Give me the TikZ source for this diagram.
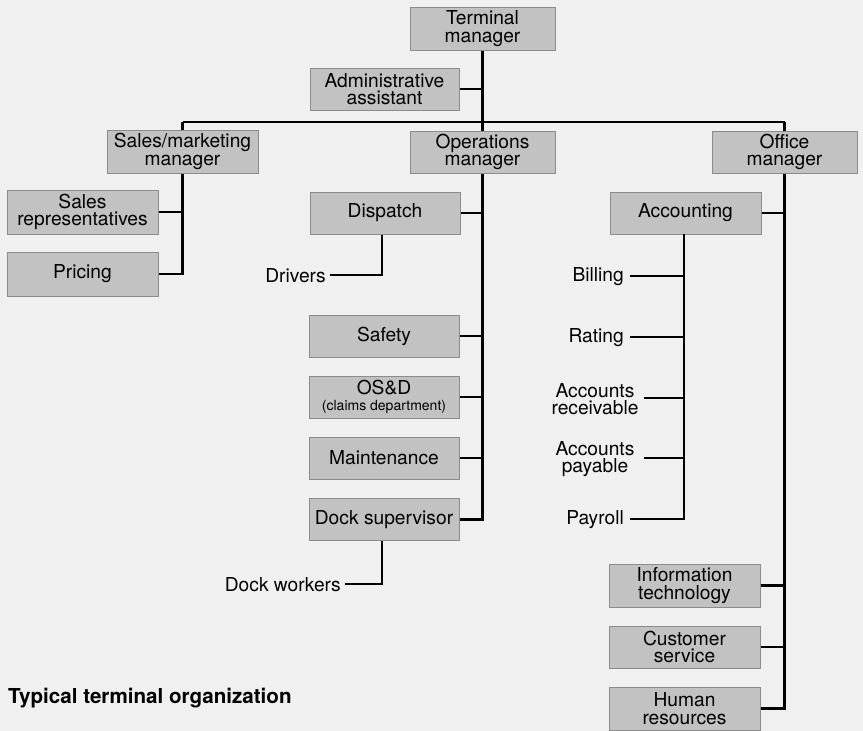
\documentclass[tikz,border=0pt]{standalone}
\usepackage{fontspec}
\setmainfont{TeX Gyre Heros}
\begin{document}
\begin{tikzpicture}[x=1pt,y=-1pt,
  box/.style={draw=black!45, line width=1pt, fill=black!24, inner sep=0pt, align=center,
     minimum width=150pt, minimum height=42pt, font=\fontsize{19.2}{17.5}\selectfont},
  lab/.style={inner sep=0pt, align=center, font=\fontsize{19.2}{17.5}\selectfont},
  conn/.style={draw=black, line width=2.8pt}]
\fill[black!6] (0,0) rectangle (863,731);
\useasboundingbox (0,0) rectangle (863,731);
% boxes
\node[box, minimum width=145pt, minimum height=43pt] (tm) at (482.5,28.5) {Terminal\\manager};
\node[box, minimum width=149pt] (aa) at (384.5,89) {Administrative\\assistant};
\node[box, minimum width=151pt, minimum height=43pt] (sm) at (182.5,151.5) {Sales/marketing\\manager};
\node[box, minimum width=145pt] (om) at (482.5,152) {Operations\\manager};
\node[box, minimum width=145pt] (ofm) at (784.5,152) {Office\\manager};
\node[box, minimum width=151pt, minimum height=44pt] (sr) at (82.5,212) {Sales\\representatives};
\node[box, minimum width=151pt, minimum height=44pt] (pr) at (82.5,274) {Pricing};
\node[box] (di) at (385,213) {Dispatch};
\node[box] (sa) at (384,336) {Safety};
\node[box] (os) at (384,397) {OS\&D\\[-1pt]{\fontsize{14}{14}\selectfont(claims department)}};
\node[box] (ma) at (384,458) {Maintenance};
\node[box] (ds) at (384,519.5) {Dock supervisor};
\node[box, minimum width=151pt] (ac) at (685.5,213) {Accounting};
\node[box, minimum width=151pt, minimum height=43pt] (it) at (684.5,585.5) {Information\\technology};
\node[box, minimum width=151pt] (cs) at (684.5,647) {Customer\\service};
\node[box, minimum width=151pt, minimum height=43pt] (hr) at (684.5,708.5) {Human\\resources};
% labels
\node[lab, anchor=east] (drv) at (326,276) {Drivers};
\node[lab, anchor=east] (dw) at (341,585) {Dock workers};
\node[lab, anchor=east] (bil) at (624,277) {Billing};
\node[lab, anchor=east] (rat) at (624,338) {Rating};
\node[lab] (ar) at (595,399) {Accounts\\receivable};
\node[lab] (ap) at (595,459) {Accounts\\payable};
\node[lab, anchor=east] (pay) at (624,520) {Payroll};
\node[anchor=west, inner sep=0pt, font=\fontsize{20.6}{20}\selectfont\bfseries] (cap) at (8,698) {Typical terminal organization};
% junction coordinates
\coordinate (barL) at (182.5,122);
\coordinate (barR) at (784.5,122);
\coordinate (dv1) at (382,275);
\coordinate (dv2) at (382,584);
% top
\draw[conn] (tm.south) -- (om.north);
\draw[conn] (aa.east) -- (aa.east -| tm.south);
\draw[conn] (barL) -- (barR);
\draw[conn] (barL) -- (sm.north);
\draw[conn] (barR) -- (ofm.north);
% sales
\draw[conn] (sm.south) -- (sm.south |- pr.east) -- (pr.east);
\draw[conn] (sr.east) -- (sr.east -| sm.south);
% operations
\draw[conn] (om.south) -- (om.south |- ds.east) -- (ds.east);
\foreach \n in {di,sa,os,ma}{\draw[conn] (\n.east) -- (\n.east -| om.south);}
\draw[conn] (di.south -| dv1) -- (dv1) -- ([xshift=4pt]dv1 -| drv.east);
\draw[conn] (ds.south -| dv2) -- (dv2) -- ([xshift=4pt]dv2 -| dw.east);
% office
\draw[conn] (ofm.south) -- (ofm.south |- hr.east) -- (hr.east);
\foreach \n in {ac,it,cs}{\draw[conn] (\n.east) -- (\n.east -| ofm.south);}
\draw[conn] (684,234) -- (684,519) -- (630,519);
\draw[conn] (630,276) -- (684,276);
\draw[conn] (630,337) -- (684,337);
\draw[conn] (644,398) -- (684,398);
\draw[conn] (644,458) -- (684,458);
\end{tikzpicture}
\end{document}
